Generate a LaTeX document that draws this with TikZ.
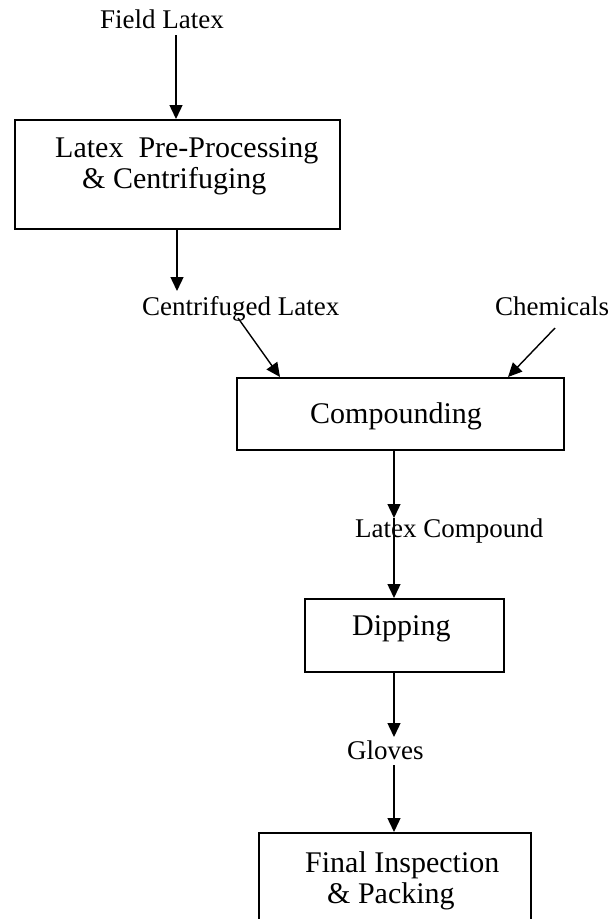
\documentclass[tikz,border=0pt]{standalone}
\usepackage{fontspec}
\setmainfont{Liberation Serif}
\usetikzlibrary{arrows.meta}
\begin{document}
\begin{tikzpicture}[x=1pt,y=-1pt,
 box/.style={draw, line width=1.6pt, inner sep=0pt, anchor=north west},
 lbl/.style={inner sep=0pt, anchor=base west, font=\fontsize{27}{32}\selectfont},
 btxt/.style={inner sep=0pt, anchor=base west, font=\fontsize{30}{36}\selectfont},
 flow/.style={line width=1.4pt, -{Triangle[length=14pt,width=13pt]}}]
\useasboundingbox (0,0) rectangle (611,919);
\clip (0,0) rectangle (611,919);
% boxes
\node[box, minimum width=325pt, minimum height=109pt] (b1) at (14,119) {};
\node[box, minimum width=327pt, minimum height=72pt] (b2) at (236,377) {};
\node[box, minimum width=199pt, minimum height=73pt] (b3) at (304,598) {};
\node[box, minimum width=272pt, minimum height=110pt] (b4) at (258,832) {};
% texts
\node[lbl] (field) at (100,28) {Field Latex};
\node[btxt] (t1a) at (55,157) {Latex\ \ Pre-Processing};
\node[btxt] (t1b) at (82,188) {\& Centrifuging};
\node[lbl] (cent) at (142,315) {Centrifuged Latex};
\node[lbl] (chem) at (495,315) {Chemicals};
\node[btxt] (t2) at (310,423) {Compounding};
\node[lbl] (lc) at (355,537) {Latex Compound};
\node[btxt] (t3) at (352,635) {Dipping};
\node[lbl] (gl) at (347,759) {Gloves};
\node[btxt] (t4a) at (305,872) {Final Inspection};
\node[btxt] (t4b) at (327,903) {\& Packing};
% connector ends
\coordinate (a1s) at (176,35);
\coordinate (a2e) at (177,291);
\coordinate (d1s) at (238,318);
\coordinate (d1e) at (280,377);
\coordinate (d2s) at (555,328);
\coordinate (d2e) at (508,377);
\coordinate (a3s) at (394,449);
\coordinate (a3e) at (394,518);
\coordinate (a5s) at (394,671);
\coordinate (a5e) at (394,737);
\coordinate (a6s) at (394,765);
% connectors
\draw[flow] (a1s) -- (a1s |- b1.north);
\draw[flow] (a2e |- b1.south) -- (a2e);
\draw[flow] (d1s) -- (d1e);
\draw[flow] (d2s) -- (d2e);
\draw[flow] (a3s) -- (a3e);
\draw[flow] (a3e) -- (a3e |- b3.north);
\draw[flow] (a5s) -- (a5e);
\draw[flow] (a6s) -- (a6s |- b4.north);
\end{tikzpicture}
\end{document}
